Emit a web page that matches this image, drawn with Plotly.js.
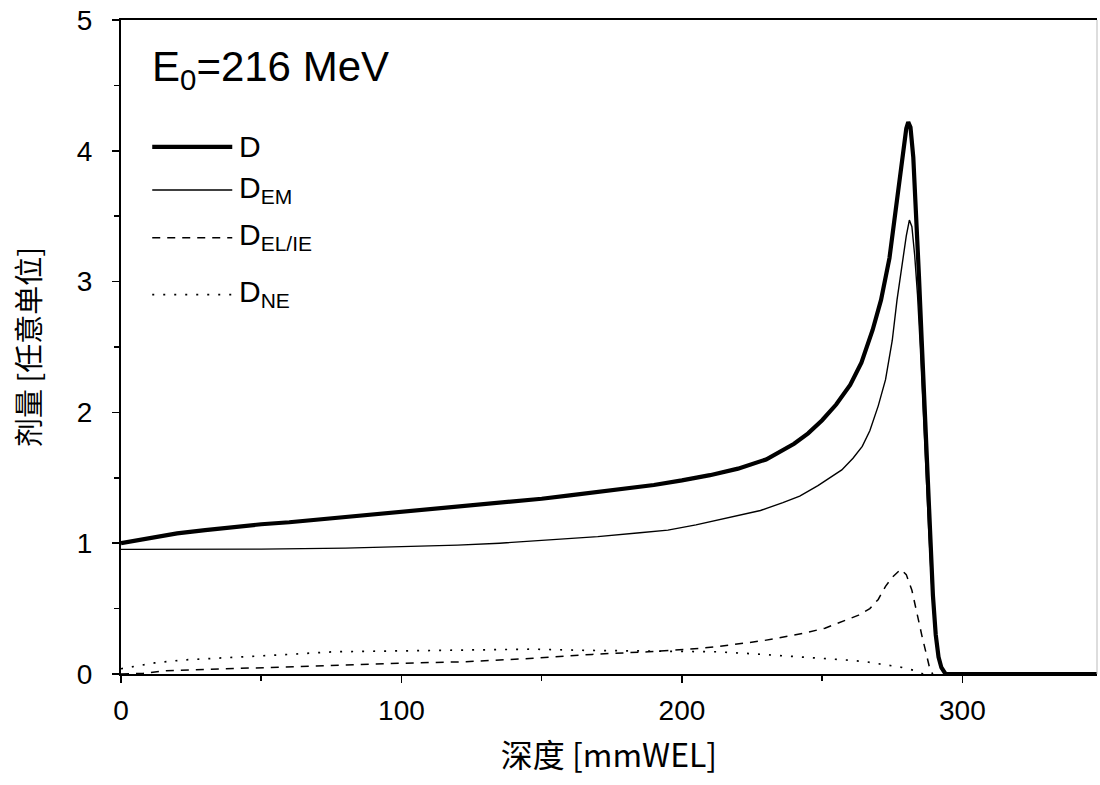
<!DOCTYPE html>
<html>
<head>
<meta charset="utf-8">
<script src="https://cdn.plot.ly/plotly-3.0.1.min.js"></script>
<style>html,body{margin:0;padding:0;background:#fff;}#chart{width:1100px;height:785px;}</style>
</head>
<body>
<div id="chart"></div>
<script>
// Depth [mmWEL] and dose [arbitrary units]
const depthD = [0,10,20,30,40,50,60,70,80,90,100,110,120,130,140,150,160,170,180,190,200,210,220,230,240,245,250,255,260,264,268,271,274,276.5,278.5,280,280.7,281.5,282.5,283.5,284.5,285.5,286.5,287.5,288.5,289.5,290.5,291.5,292.5,294,300,348];
const doseD  = [1.00,1.04,1.075,1.10,1.125,1.145,1.16,1.18,1.20,1.22,1.24,1.257,1.275,1.295,1.32,1.34,1.365,1.39,1.415,1.445,1.48,1.52,1.57,1.64,1.76,1.84,1.94,2.06,2.21,2.38,2.63,2.86,3.18,3.6,3.95,4.17,4.22,4.18,3.95,3.55,3.05,2.55,2.05,1.55,1.05,0.6,0.3,0.13,0.05,0.0,0,0];

const depthEM = [0,20,50,80,100,120,135,150,170,185,195,205,218,228,236,242,248.5,253,257,261,264.3,267,270,272.6,275,276.7,278.5,280,281.1,282,283,284,285,286,287,288,289,290,291,292.5,294];
const doseEM  = [0.953,0.953,0.955,0.962,0.972,0.985,1.0,1.02,1.05,1.08,1.10,1.14,1.20,1.25,1.31,1.36,1.44,1.50,1.56,1.65,1.74,1.86,2.05,2.25,2.55,2.86,3.13,3.35,3.47,3.42,3.2,2.9,2.5,2.0,1.5,1.1,0.7,0.38,0.17,0.04,0];

const depthEL = [0,8,16,32,47,70,100,123,147,168,188,206,213,229,243,251,258,263,267,270,272.6,275,278,280,282,283.8,285.6,287.4,288.6,289.5];
const doseEL  = [0,0.005,0.025,0.036,0.048,0.061,0.082,0.094,0.12,0.15,0.17,0.196,0.21,0.255,0.31,0.35,0.41,0.45,0.50,0.57,0.67,0.74,0.80,0.76,0.64,0.46,0.29,0.13,0.02,0];

const depthNE = [0,4.5,12,22,34,46,60,76,90,111,130,147,168,190,212,225,236,251,260,265.5,271,278.5,283.3,286];
const doseNE  = [0.04,0.056,0.085,0.107,0.12,0.13,0.15,0.17,0.175,0.18,0.185,0.19,0.18,0.175,0.17,0.155,0.14,0.12,0.105,0.094,0.075,0.05,0.025,0];

const seriesNames = ['D', 'D<sub>EM</sub>', 'D<sub>EL/IE</sub>', 'D<sub>NE</sub>'];
const titleText = 'E<sub>0</sub>=216 MeV';
const xTitle = '深度 [mmWEL]';
const yTitle = '剂量 [任意单位]';

const FONT = 'Liberation Sans, Arial, "Noto Sans CJK SC", sans-serif';
const CJK = '"Noto Sans CJK SC", "Liberation Sans", sans-serif';

const styles = [
  {width: 4.2, dash: 'solid'},
  {width: 1.4, dash: 'solid'},
  {width: 1.5, dash: '8px,7px'},
  {width: 1.7, dash: '2px,9px'}
];
const xs = [depthD, depthEM, depthEL, depthNE];
const ys = [doseD, doseEM, doseEL, doseNE];

const traces = xs.map((x, i) => ({
  type: 'scatter', mode: 'lines', x: x, y: ys[i], name: seriesNames[i],
  line: {color: '#000', width: styles[i].width, dash: styles[i].dash, shape: 'linear'},
  showlegend: false, hoverinfo: 'skip'
}));

// manual legend (paper coordinates)
const legY = [0.806, 0.740, 0.667, 0.580];
const shapes = legY.map((y, i) => ({
  type: 'line', xref: 'paper', yref: 'paper', x0: 0.032, x1: 0.114, y0: y, y1: y,
  line: {color: '#000', width: styles[i].width, dash: styles[i].dash}
}));
shapes.push({type: 'line', xref: 'paper', yref: 'paper', x0: 1, x1: 1, y0: 0, y1: 1,
  line: {color: '#bbb', width: 1}});

const annotations = legY.map((y, i) => ({
  xref: 'paper', yref: 'paper', x: 0.119, y: y, xanchor: 'left', yanchor: 'middle',
  text: seriesNames[i], showarrow: false, font: {family: FONT, size: 30, color: '#000'},
  yshift: i === 0 ? 0 : 1
}));
annotations.push({
  xref: 'paper', yref: 'paper', x: 0.030, y: 0.927, xanchor: 'left', yanchor: 'middle',
  text: titleText, showarrow: false, font: {family: FONT, size: 42, color: '#000'}, yshift: -2
});

const layout = {
  width: 1100, height: 785,
  margin: {l: 121, r: 3, t: 20, b: 111},
  paper_bgcolor: '#fff', plot_bgcolor: '#fff',
  font: {family: FONT, size: 28, color: '#000'},
  xaxis: {
    range: [0, 348], tickvals: [0, 100, 200, 300], ticks: 'outside', ticklen: 7, tickwidth: 1.5,
    tickcolor: '#000', showgrid: false, zeroline: false, showline: true, linewidth: 2, linecolor: '#000',
    mirror: true, ticklabelstandoff: 3,
    minor: {tickvals: [50, 150, 250], ticks: 'outside', ticklen: 5, tickwidth: 1.5, tickcolor: '#000', showgrid: false},
    tickfont: {family: FONT, size: 28, color: '#000'},
    title: {text: xTitle, font: {family: CJK, size: 32, color: '#000'}, standoff: 20}
  },
  yaxis: {
    range: [0, 5], tickvals: [0, 1, 2, 3, 4, 5], ticks: 'outside', ticklen: 7, tickwidth: 1.5,
    tickcolor: '#000', showgrid: false, zeroline: false, showline: true, linewidth: 2, linecolor: '#000',
    mirror: false, ticklabelstandoff: 14,
    minor: {tickvals: [0.5, 1.5, 2.5, 3.5, 4.5], ticks: 'outside', ticklen: 5, tickwidth: 1.5, tickcolor: '#000', showgrid: false},
    tickfont: {family: FONT, size: 28, color: '#000'},
    title: {text: yTitle, font: {family: CJK, size: 29, color: '#000'}, standoff: 28}
  },
  shapes: shapes,
  annotations: annotations,
  showlegend: false
};

Plotly.newPlot('chart', traces, layout, {displayModeBar: false, staticPlot: true});
</script>
</body>
</html>
